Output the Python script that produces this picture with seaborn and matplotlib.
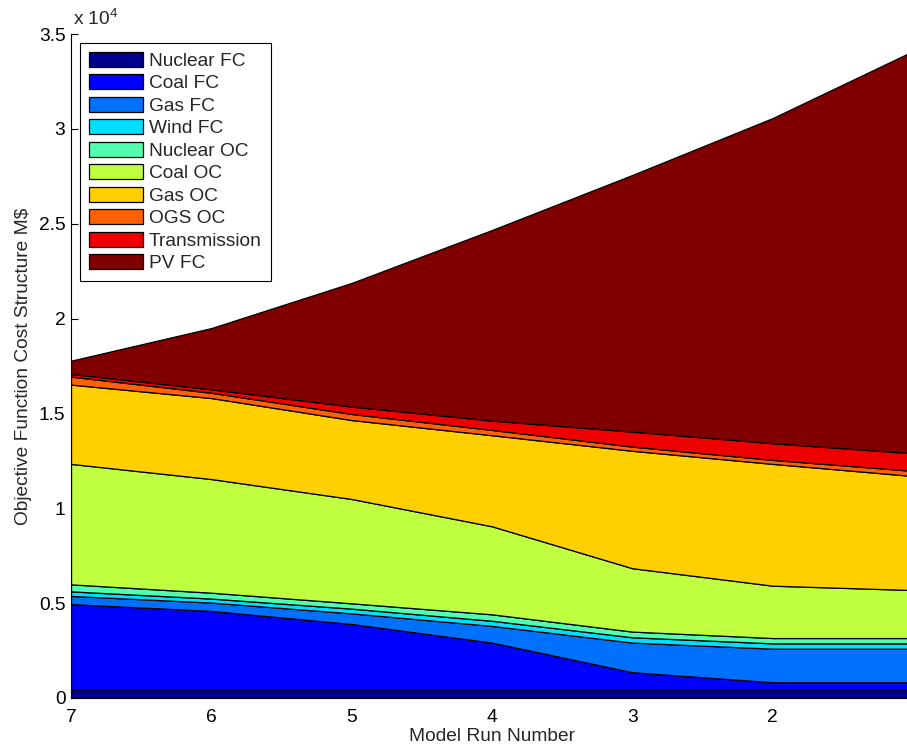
import matplotlib
matplotlib.use("Agg")
import matplotlib.pyplot as plt
import seaborn as sns
import numpy as np
import pandas as pd
from matplotlib.ticker import FuncFormatter

# ---- data (M$) ----
runs = [7, 6, 5, 4, 3, 2, 1]
nuclear_fc = [450, 450, 450, 450, 450, 450, 450]
coal_fc = [4500, 4140, 3450, 2470, 910, 380, 380]
gas_fc = [430, 440, 560, 880, 1560, 1770, 1770]
wind_fc = [240, 210, 250, 270, 280, 280, 280]
nuclear_oc = [370, 310, 280, 340, 300, 280, 280]
coal_oc = [6350, 5990, 5500, 4640, 3340, 2760, 2530]
gas_oc = [4180, 4270, 4160, 4800, 6190, 6420, 6010]
ogs_oc = [420, 280, 320, 280, 220, 210, 270]
transmission = [140, 180, 390, 490, 790, 880, 930]
pv_fc = [700, 3230, 6520, 10050, 13530, 17140, 21200]

series_names = ["Nuclear FC", "Coal FC", "Gas FC", "Wind FC", "Nuclear OC",
                "Coal OC", "Gas OC", "OGS OC", "Transmission", "PV FC"]
xticks = [7, 6, 5, 4, 3, 2]
yticks = [0, 5000, 10000, 15000, 20000, 25000, 30000, 35000]

df = pd.DataFrame({
    "run": runs,
    "Nuclear FC": nuclear_fc, "Coal FC": coal_fc, "Gas FC": gas_fc,
    "Wind FC": wind_fc, "Nuclear OC": nuclear_oc, "Coal OC": coal_oc,
    "Gas OC": gas_oc, "OGS OC": ogs_oc, "Transmission": transmission,
    "PV FC": pv_fc,
})

colors = [(0, 0, 0.5625), (0, 0, 1.0), (0, 0.4375, 1.0), (0, 0.875, 1.0),
          (0.3125, 1.0, 0.6875), (0.75, 1.0, 0.25), (1.0, 0.8125, 0.0),
          (1.0, 0.375, 0.0), (0.9375, 0.0, 0.0), (0.5, 0.0, 0.0)]

sns.set_style("white")
plt.rcParams["font.family"] = ["Liberation Sans", "DejaVu Sans"]
plt.rcParams["mathtext.fontset"] = "custom"
plt.rcParams["mathtext.rm"] = "Liberation Sans"
plt.rcParams["mathtext.it"] = "Liberation Sans:italic"

FS = 13.8
W, H = 907, 748
fig = plt.figure(figsize=(W / 100, H / 100), dpi=100)
ax = fig.add_axes([71 / W, (H - 698) / H, (913 - 71) / W, (698 - 34) / H])

ax.stackplot(df["run"], [df[n] for n in series_names], labels=series_names,
             colors=colors, edgecolor="black", linewidth=0.9)

ax.set_xlim(7, 1)
ax.set_ylim(0, 35000)
ax.set_xticks(xticks)
ax.set_yticks(yticks)
ax.yaxis.set_major_formatter(FuncFormatter(lambda v, p: f"{v / 1e4:g}"))
ax.set_axisbelow(True)
ax.tick_params(direction="in", length=5, width=0.8, labelsize=FS,
               colors="black", left=True, bottom=True)
ax.tick_params(axis="x", pad=8)
ax.tick_params(axis="y", pad=4)

for s in ["top", "right"]:
    ax.spines[s].set_visible(False)
for s in ["left", "bottom"]:
    ax.spines[s].set_color("black")
    ax.spines[s].set_linewidth(0.8)

ax.set_xlabel("Model Run Number", fontsize=FS, labelpad=1.5)
ax.set_ylabel("Objective Function Cost Structure M$", fontsize=FS, labelpad=5)

ax.text(0.002, 1.008, r"x 10$^{4}$", transform=ax.transAxes, ha="left",
        va="bottom", fontsize=FS)

leg = ax.legend(loc="upper left", bbox_to_anchor=(9 / 842, 1 - 9 / 664),
                borderaxespad=0, fontsize=FS, frameon=True, fancybox=False,
                handlelength=2.85, handleheight=0.82, labelspacing=0.23,
                handletextpad=0.3, borderpad=0.45)
leg.get_frame().set_edgecolor("black")
leg.get_frame().set_linewidth(0.8)
leg.get_frame().set_alpha(1)

fig.savefig("out.png", dpi=100)
